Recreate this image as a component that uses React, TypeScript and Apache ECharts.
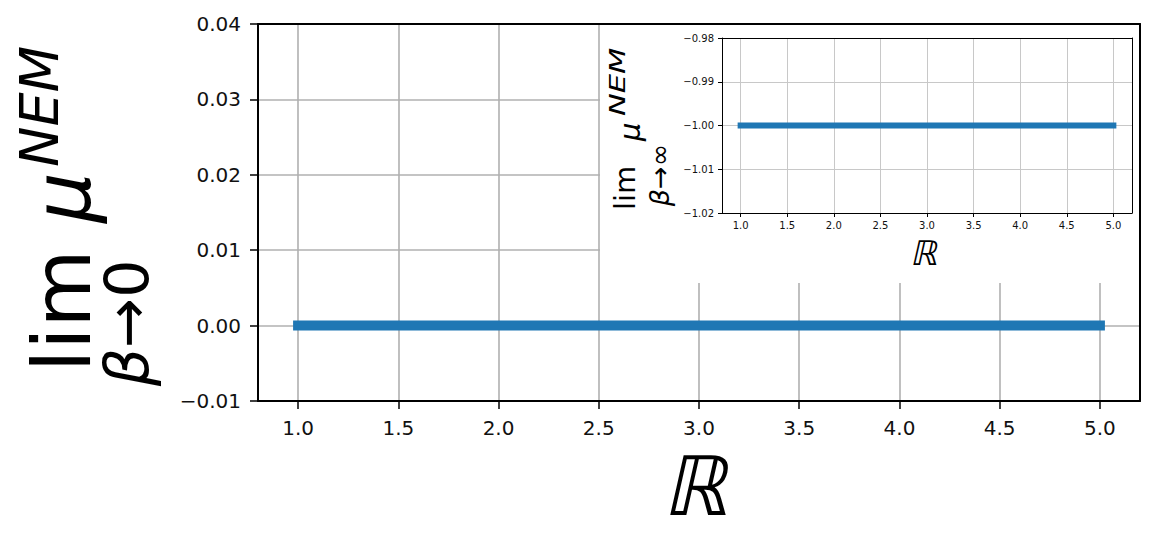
import React, { useEffect, useRef } from "react";
import * as echarts from "echarts";

// ---- data ----
const R_VALUES = [1, 2, 3, 4, 5];
const LIM_BETA_ZERO = [0, 0, 0, 0, 0];
const LIM_BETA_INF = [-1, -1, -1, -1, -1];
const X_TICKS = [1.0, 1.5, 2.0, 2.5, 3.0, 3.5, 4.0, 4.5, 5.0];
const MAIN_Y_TICKS = [-0.01, 0.0, 0.01, 0.02, 0.03, 0.04];
const INSET_Y_TICKS = [-1.02, -1.01, -1.0, -0.99, -0.98];

const FONT = "DejaVu Sans";
const BLUE = "#1f77b4";
const fmt = (d: number) => (v: number) =>
  (Math.abs(v) < 1e-12 ? 0 : v).toFixed(d).replace("-", "\u2212");

function buildOption() {
  const mainX = { min: 0.8, max: 5.2 };
  const mainY = { min: -0.01, max: 0.04 };
  const insetY = { min: -1.02, max: -0.98 };

  const frameLine = (w: number) => ({ show: true, onZero: false, lineStyle: { color: "#000", width: w } });
  const hidden = {
    axisTick: { show: false },
    axisLabel: { show: false },
    splitLine: { show: false },
  };

  const txt = (
    text: string,
    x: number,
    y: number,
    size: number,
    italic: boolean,
    align: string,
    extra: any = {}
  ) => ({
    type: "text",
    z: 10,
    silent: true,
    x,
    y,
    ...extra,
    style: {
      text,
      x: 0,
      y: 0,
      font: `${italic ? "italic " : ""}${size}px ${FONT}`,
      textAlign: align,
      textVerticalAlign: "middle",
      verticalAlign: "middle",
      fill: "#000",
    },
  });

  const subText = (a: string, b: string, x: number, y: number, size: number) => ({
    type: "text",
    z: 10,
    silent: true,
    x,
    y,
    style: {
      text: `{b|${a}}{r|${b}}`,
      x: 0,
      y: 0,
      textAlign: "center",
      textVerticalAlign: "middle",
      verticalAlign: "middle",
      fill: "#000",
      rich: {
        b: { fontFamily: FONT, fontSize: size, fontStyle: "italic", fill: "#000", color: "#000" },
        r: { fontFamily: FONT, fontSize: size, fill: "#000", color: "#000" },
      },
    },
  });

  return {
    animation: false,
    backgroundColor: "#fff",
    grid: [
      { left: 258, right: 15, top: 24, bottom: 151 },
      { left: 722, right: 23, top: 38, bottom: 339 },
    ],
    xAxis: [
      {
        type: "value",
        gridIndex: 0,
        position: "bottom",
        ...mainX,
        z: 0,
        axisLine: frameLine(2),
        axisTick: { show: true, length: 8, lineStyle: { color: "#000", width: 1.5 }, customValues: X_TICKS },
        axisLabel: {
          customValues: X_TICKS,
          formatter: fmt(1),
          fontFamily: FONT,
          fontSize: 20,
          color: "#111",
          margin: 17,
        },
        splitLine: { show: true, lineStyle: { color: "#b0b0b0", width: 1.6 } },
      },
      {
        type: "value",
        gridIndex: 0,
        position: "top",
        ...mainX,
        z: 5,
        axisLine: frameLine(2),
        ...hidden,
      },
      {
        type: "value",
        gridIndex: 1,
        position: "bottom",
        ...mainX,
        z: 5,
        axisLine: frameLine(1),
        axisTick: { show: true, length: 4, lineStyle: { color: "#000", width: 1 }, customValues: X_TICKS },
        axisLabel: {
          customValues: X_TICKS,
          formatter: fmt(1),
          fontFamily: FONT,
          fontSize: 10,
          color: "#111",
          margin: 7,
        },
        splitLine: { show: true, lineStyle: { color: "#c8c8c8", width: 1 } },
      },
      {
        type: "value",
        gridIndex: 1,
        position: "top",
        ...mainX,
        z: 5,
        axisLine: frameLine(1),
        ...hidden,
      },
    ],
    yAxis: [
      {
        type: "value",
        gridIndex: 0,
        position: "left",
        ...mainY,
        interval: 0.01,
        z: 0,
        axisLine: frameLine(2),
        axisTick: { show: true, length: 8, lineStyle: { color: "#000", width: 1.5 }, customValues: MAIN_Y_TICKS },
        axisLabel: {
          customValues: MAIN_Y_TICKS,
          formatter: fmt(2),
          fontFamily: FONT,
          fontSize: 20,
          color: "#111",
          margin: 17,
        },
        splitLine: { show: true, lineStyle: { color: "#b0b0b0", width: 1.6 } },
      },
      {
        type: "value",
        gridIndex: 0,
        position: "right",
        ...mainY,
        z: 5,
        axisLine: frameLine(2),
        ...hidden,
      },
      {
        type: "value",
        gridIndex: 1,
        position: "left",
        ...insetY,
        interval: 0.01,
        z: 5,
        axisLine: frameLine(1),
        axisTick: { show: true, length: 4, lineStyle: { color: "#000", width: 1 }, customValues: INSET_Y_TICKS },
        axisLabel: {
          customValues: INSET_Y_TICKS,
          formatter: fmt(2),
          fontFamily: FONT,
          fontSize: 10,
          color: "#111",
          margin: 8,
        },
        splitLine: { show: true, lineStyle: { color: "#c8c8c8", width: 1 } },
      },
      {
        type: "value",
        gridIndex: 1,
        position: "right",
        ...insetY,
        z: 5,
        axisLine: frameLine(1),
        ...hidden,
      },
    ],
    series: [
      {
        type: "line",
        xAxisIndex: 0,
        yAxisIndex: 0,
        z: 2,
        data: R_VALUES.map((r, i) => [r, LIM_BETA_ZERO[i]]),
        showSymbol: false,
        symbol: "none",
        lineStyle: { color: BLUE, width: 10, cap: "square" },
        silent: true,
      },
      {
        type: "line",
        xAxisIndex: 2,
        yAxisIndex: 2,
        z: 6,
        data: R_VALUES.map((r, i) => [r, LIM_BETA_INF[i]]),
        showSymbol: false,
        symbol: "none",
        lineStyle: { color: BLUE, width: 6, cap: "square" },
        silent: true,
      },
    ],
    graphic: [
      {
        type: "rect",
        z: 1,
        silent: true,
        shape: { x: 600, y: 24, width: 540, height: 259 },
        style: { fill: "#fff" },
      },
      // main y-axis label (rotated)
      {
        type: "group",
        x: 0,
        y: 400,
        rotation: Math.PI / 2,
        z: 10,
        children: [
          txt("lim", 28, 62, 80, false, "left"),
          subText("β", "→0", 77, 127, 60),
          txt("μ", 177, 62, 80, true, "left"),
          txt("NEM", 233, 39, 54, true, "left"),
        ],
      },
      // inset y-axis label (rotated)
      {
        type: "group",
        x: 0,
        y: 400,
        rotation: Math.PI / 2,
        z: 10,
        children: [
          txt("lim", 190, 625, 29, false, "left"),
          subText("β", "→∞", 225, 659, 27),
          txt("μ", 259, 630, 29, true, "left"),
          txt("NEM", 284, 618, 21, true, "left", { scaleX: 1.45 }),
        ],
      },
      // x-axis labels
      txt("ℝ", 701, 487, 82, false, "center", { skewX: -0.22 }),
      txt("ℝ", 926, 253, 34, false, "center", { skewX: -0.22 }),
    ],
  };
}

export default function App() {
  const ref = useRef<HTMLDivElement>(null);
  useEffect(() => {
    if (!ref.current) return;
    const chart = echarts.init(ref.current, undefined, { renderer: "svg" });
    chart.setOption(buildOption() as any);
    return () => chart.dispose();
  }, []);
  return (
    <div
      ref={ref}
      style={{ position: "fixed", left: 0, top: 0, width: 1155, height: 552, background: "#fff" }}
    />
  );
}
